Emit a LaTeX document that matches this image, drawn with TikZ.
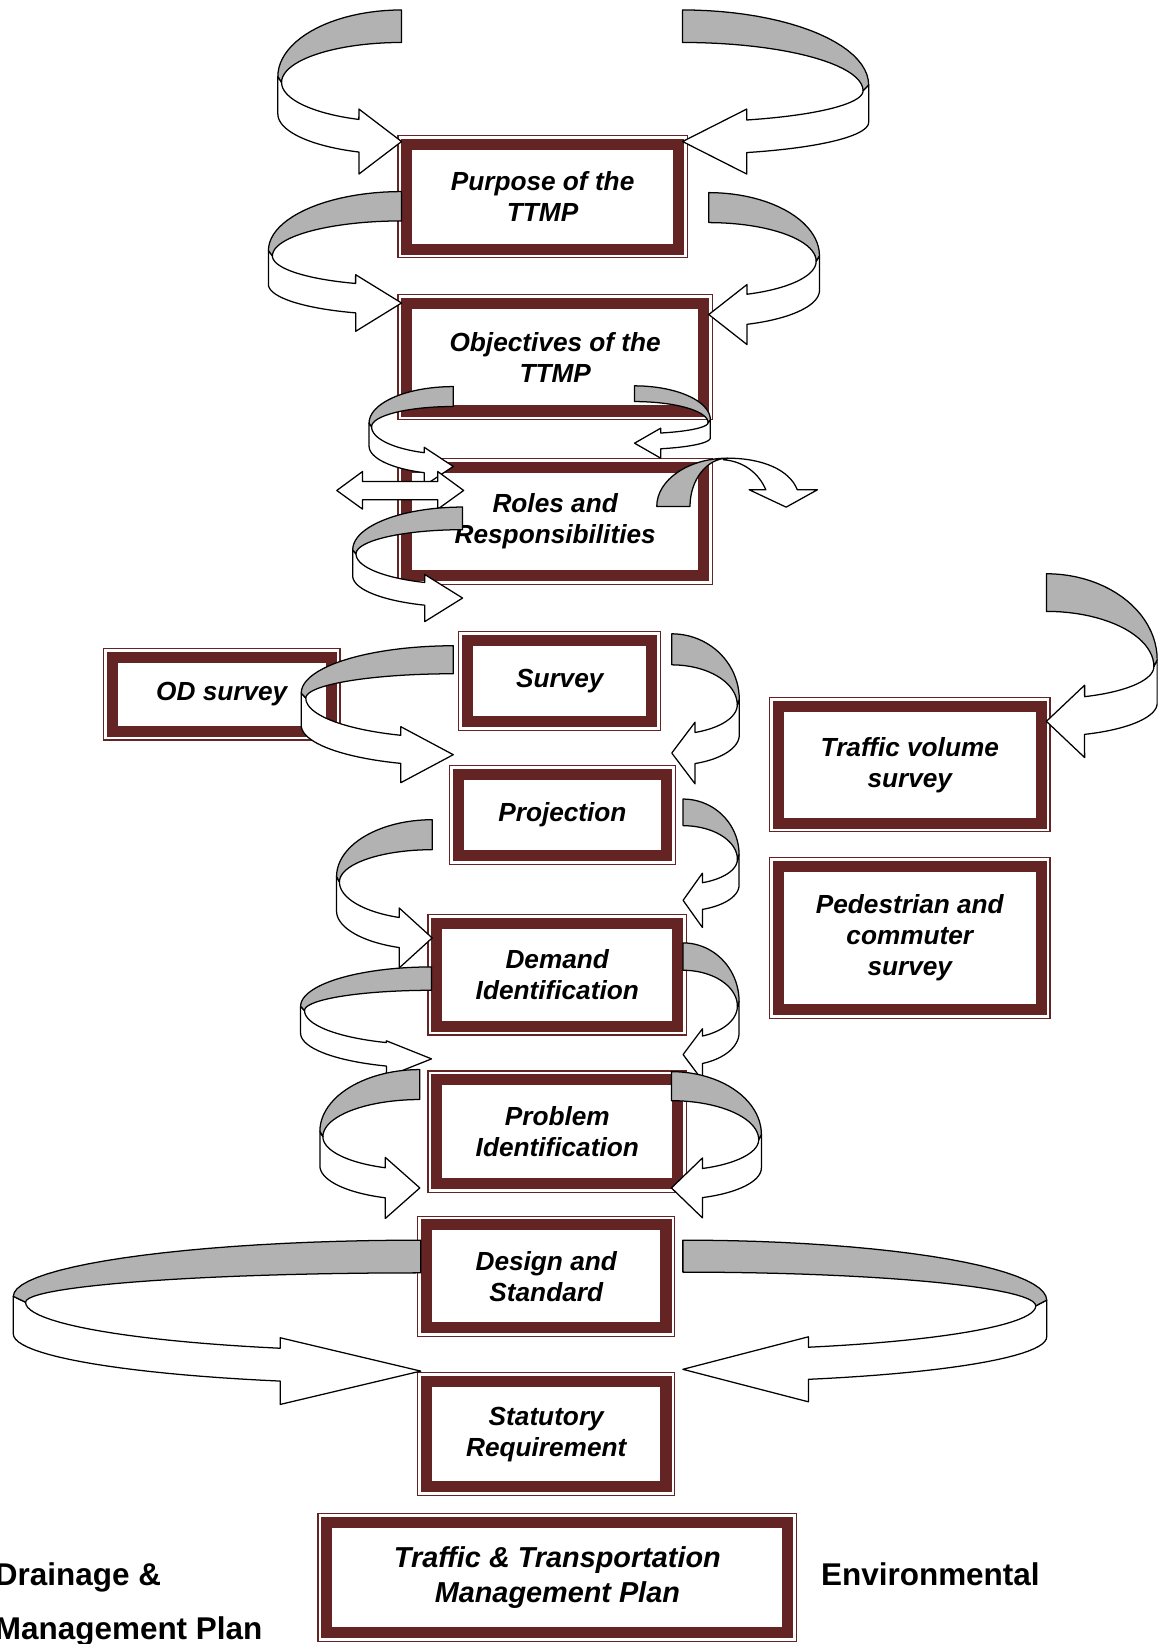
\documentclass[tikz,border=0pt]{standalone}
\usepackage{fontspec}
\setmainfont{Liberation Sans}
\definecolor{boxred}{HTML}{632423}
\definecolor{ribgrey}{HTML}{B2B2B2}
\tikzset{
  box/.style={draw=boxred, line width=10.5pt, fill=white, inner sep=0pt, outer sep=0pt,
    align=center, font=\fontsize{25}{29.5}\selectfont\bfseries\itshape},
  frame/.style={draw=boxred, line width=1.2pt},
  rib/.style={draw=black, line width=1.2pt, line join=round},
  lbl/.style={font=\fontsize{30}{36}\selectfont\bfseries, inner sep=0pt, anchor=base west}
}
% box: [opts]{name}{x1}{y1}{x2}{y2}{text}
\newcommand\mkbox[7][]{%
  \node[box,#1,minimum width={(#5-#3-18)*1pt},minimum height={(#6-#4-18)*1pt}]
     (#2) at ({(#3+#5)/2},{(#4+#6)/2}) {#7};
  \draw[frame] ([shift={(-8.4pt,8.4pt)}]#2.north west) rectangle ([shift={(8.4pt,-8.4pt)}]#2.south east);}
% curved ribbon arrow: {dir}{X0}{Y0}{W}{t}{yA}{ytip}{half head}
\newcommand\uarr[8]{%
 \begin{scope}[shift={(#2,0)},xscale=#1]
  \pgfmathsetmacro\uW{#4}
  \pgfmathsetmacro\uWi{0.97*#4}
  \pgfmathsetmacro\uYa{#6}
  \pgfmathsetmacro\uBa{#6-#3}
  \pgfmathsetmacro\uYb{#6+0.18*#5}
  \pgfmathsetmacro\uBb{\uYb-#3-#5}
  \pgfmathsetmacro\uYc{#6+1.15*#5}
  \pgfmathsetmacro\uBo{#7+0.4*#5-\uYc}
  \pgfmathsetmacro\uBi{#7-0.6*#5-\uYb}
  \pgfmathsetmacro\uHx{-0.345*#4}
  \pgfmathsetmacro\uTa{#7-#8}
  \pgfmathsetmacro\uTb{#7+#8}
  \filldraw[rib, fill=white] (-\uW,\uYa) -- (-\uW,\uYc)
    -- plot[domain=180:110.18,samples=24] ({\uW*cos(\x)},{\uYc+\uBo*sin(\x)})
    -- (\uHx,\uTb) -- (0,#7) -- (\uHx,\uTa)
    -- plot[domain=110.84:180,samples=24] ({\uWi*cos(\x)},{\uYb+\uBi*sin(\x)})
    -- cycle;
  \filldraw[rib, fill=ribgrey] (0,#3)
    -- plot[domain=270:180,samples=24] ({\uW*cos(\x)},{\uYa+\uBa*sin(\x)})
    -- plot[domain=180:270,samples=24] ({\uWi*cos(\x)},{\uYb+\uBb*sin(\x)})
    -- cycle;
 \end{scope}}
\begin{document}
\begin{tikzpicture}[x=1pt,y=-1pt]
\useasboundingbox (0,0) rectangle (1104,1568);
\clip (0,0) rectangle (1104,1568);
\fill[white] (0,0) rectangle (1104,1568);
% ---------- boxes ----------
\mkbox{purpose}{379}{128.5}{656}{246.5}{Purpose of the\\TTMP}
\mkbox{objectives}{379}{280.5}{680}{401}{Objectives of the\\TTMP}
\mkbox{roles}{379}{437}{680}{558}{Roles and\\Responsibilities}
\mkbox{odsurvey}{98}{618}{325}{706.5}{OD survey}
\mkbox{survey}{437}{601.6}{630.7}{697.6}{Survey}
\mkbox{projection}{428}{729.4}{644.8}{825}{Projection}
\mkbox{trafficvol}{733.5}{664.8}{1002}{794}{Traffic volume\\survey}
\mkbox{pedestrian}{733.5}{817}{1002}{972}{Pedestrian and\\commuter\\survey}
\mkbox{demand}{407.7}{871.4}{655.3}{987.7}{Demand\\Identification}
\mkbox{problem}{407.7}{1020.8}{655.3}{1137.8}{Problem\\Identification}
\mkbox{design}{397.8}{1159.3}{644.2}{1275.3}{Design and\\Standard}
\mkbox{statutory}{397.8}{1308.7}{644.2}{1427}{Statutory\\Requirement}
\mkbox[font=\fontsize{27.5}{33}\selectfont\bfseries\itshape]{ttmp}{302.8}{1442.7}{760.4}{1566}{Traffic \& Transportation\\Management Plan}
% ---------- side labels ----------
\node[lbl] (drain1) at (-5,1512) {Drainage \&};
\node[lbl] (drain2) at (-5,1564) {Management Plan};
\node[lbl] (env) at (783,1512) {Environmental};
% ---------- curved ribbon arrows ----------
\uarr{1}{383}{9.5}{118}{31}{73}{135}{31}
\uarr{-1}{651}{9.5}{177.5}{31}{81}{135}{31}
\uarr{1}{383}{182.7}{127}{28}{239}{289}{27}
\uarr{-1}{676}{183.7}{105.6}{28.6}{244}{300}{28.6}
\uarr{1}{432.3}{368.7}{80.3}{19}{403.6}{444.9}{18.3}
\uarr{-1}{605.2}{368}{72.3}{15}{400.4}{422.7}{14.3}
% double arrow at Roles
\filldraw[rib, fill=white] (321.2,467.8) -- (345.8,449.7) -- (345.8,459.2) -- (417.5,459.2)
  -- (417.5,449.7) -- (442.2,467.8) -- (417.5,485.6) -- (417.5,476.6) -- (345.8,476.6)
  -- (345.8,485.6) -- cycle;
% U-turn arrow at Roles top right
\filldraw[rib, fill=white] (694,437) .. controls (727,437) and (753,448) .. (760.4,467.1)
  -- (779.7,467.1) -- (749.8,483.7) -- (714.5,467.1) -- (730.4,467.1)
  .. controls (724,452) and (710,440) .. (690,438.5) -- cycle;
\filldraw[rib, fill=ribgrey] (626.4,483) .. controls (626.4,457.6) and (656.7,437) .. (694,437)
  .. controls (674.2,437) and (658.1,457.6) .. (658.1,483) -- cycle;
\uarr{1}{441.2}{483.6}{104.8}{21.6}{524.4}{570.4}{22.5}
\uarr{1}{432.3}{615.9}{145}{26.7}{661}{719.8}{26.7}
\uarr{-1}{640.7}{604.5}{64.4}{29.6}{667}{718.2}{29.4}
\uarr{-1}{998}{547.2}{105.7}{35.9}{629.3}{688}{34.5}
\uarr{-1}{651.5}{762.1}{53.4}{25.4}{815}{858.7}{25.9}
\uarr{1}{412.2}{781.8}{91.2}{28.6}{836}{894.6}{28.6}
\uarr{1}{411.6}{922.2}{124.9}{22.3}{959.8}{1009.9}{17.2}
\uarr{-1}{651.5}{899.3}{53.4}{26.1}{955}{1005.8}{24.6}
\uarr{1}{400.4}{1020.1}{95.3}{28.6}{1079}{1133}{29.1}
\uarr{-1}{640.4}{1022.1}{85.8}{27.7}{1082}{1133}{28.6}
\uarr{1}{401.3}{1182.8}{388.6}{31.2}{1236.4}{1307.7}{31.8}
\uarr{-1}{651.3}{1182.8}{347}{30.5}{1240}{1306}{31}
\end{tikzpicture}
\end{document}
